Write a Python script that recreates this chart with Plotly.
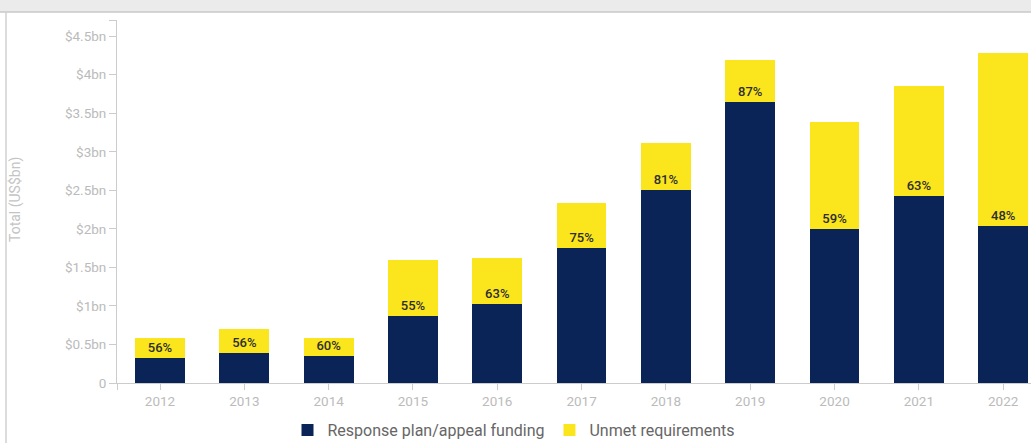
import plotly.graph_objects as go

years = ["2012", "2013", "2014", "2015", "2016", "2017", "2018", "2019", "2020", "2021", "2022"]
funding = [0.32, 0.39, 0.35, 0.87, 1.02, 1.75, 2.50, 3.64, 2.00, 2.43, 2.04]
total = [0.58, 0.70, 0.58, 1.60, 1.62, 2.33, 3.11, 4.19, 3.39, 3.85, 4.28]
pct_labels = ["56%", "56%", "60%", "55%", "63%", "75%", "81%", "87%", "59%", "63%", "48%"]
unmet = [round(t - f, 3) for t, f in zip(total, funding)]

tick_vals = [0, 0.5, 1, 1.5, 2, 2.5, 3, 3.5, 4, 4.5]
tick_text = ["0", "$0.5bn", "$1bn", "$1.5bn", "$2bn", "$2.5bn", "$3bn", "$3.5bn", "$4bn", "$4.5bn"]

Y_MAX = 4.71
X_MIN, X_MAX = -0.51, 10.33

navy = "#0a2457"
yellow = "#fbe51c"

fig = go.Figure()
fig.add_trace(go.Bar(
    x=list(range(len(years))), y=funding, name="Response plan/appeal funding",
    marker=dict(color=navy, line=dict(width=0)), width=0.59,
    hoverinfo="skip",
))
fig.add_trace(go.Bar(
    x=list(range(len(years))), y=unmet, name="Unmet requirements",
    marker=dict(color=yellow, line=dict(width=0)), width=0.59,
    text=pct_labels, textposition="inside", insidetextanchor="start",
    textangle=0, constraintext="none",
    textfont=dict(family="Roboto", size=13, color="#2e2e2e", weight=500),
    hoverinfo="skip",
))

fig.update_layout(
    barmode="stack",
    width=1031, height=443,
    margin=dict(l=117, r=0, t=20, b=60, autoexpand=False),
    paper_bgcolor="white", plot_bgcolor="white",
    font=dict(family="Roboto", color="#bbbbbb", size=13),
    showlegend=True,
    legend=dict(orientation="h", x=(514 - 117) / 914, xanchor="center",
                y=-(430 - 383) / 363, yanchor="middle",
                font=dict(size=16, color="#666666"), traceorder="normal",
                bgcolor="rgba(0,0,0,0)"),
    xaxis=dict(
        range=[X_MIN, X_MAX],
        tickmode="array", tickvals=[X_MIN] + list(range(len(years))), ticktext=[""] + years,
        showline=True, linecolor="#cccccc", linewidth=1,
        ticks="outside", ticklen=6, tickcolor="#cccccc",
        showgrid=False, zeroline=False,
        tickfont=dict(size=13.5, color="#bbbbbb"),
    ),
    yaxis=dict(
        range=[0, Y_MAX],
        tickmode="array", tickvals=tick_vals + [Y_MAX], ticktext=tick_text + [""],
        showline=True, linecolor="#cccccc", linewidth=1,
        ticks="outside", ticklen=7, tickcolor="#cccccc",
        showgrid=False, zeroline=False,
        tickfont=dict(size=13.5, color="#bbbbbb"),
    ),
    annotations=[dict(
        text="Total (US$bn)", textangle=-90, xref="paper", yref="paper",
        x=(15 - 117) / 914, y=(383 - 200) / 363, xanchor="center", yanchor="middle",
        showarrow=False,
        font=dict(size=14, color="#c4c4c4"),
    )],
    shapes=[
        dict(type="rect", xref="paper", yref="paper", x0=-0.2, x1=1.01,
             y0=(443 - 60 - 12) / 363, y1=(443 - 60) / 363 + 0.1,
             fillcolor="#ebebeb", line=dict(width=0), layer="above"),
        dict(type="line", xref="paper", yref="paper", x0=-0.2, x1=1.01,
             y0=(443 - 60 - 12) / 363, y1=(443 - 60 - 12) / 363,
             line=dict(color="#c8c8c8", width=1.5)),
        dict(type="line", xref="paper", yref="paper", x0=(6 - 117) / 914, x1=(6 - 117) / 914,
             y0=-0.3, y1=(443 - 60 - 12) / 363,
             line=dict(color="#d0d0d0", width=1.5)),
    ],
)

fig.write_html("out.html", config={"displayModeBar": False},
               post_script="document.body.style.margin='0';document.body.style.overflow='hidden';")
